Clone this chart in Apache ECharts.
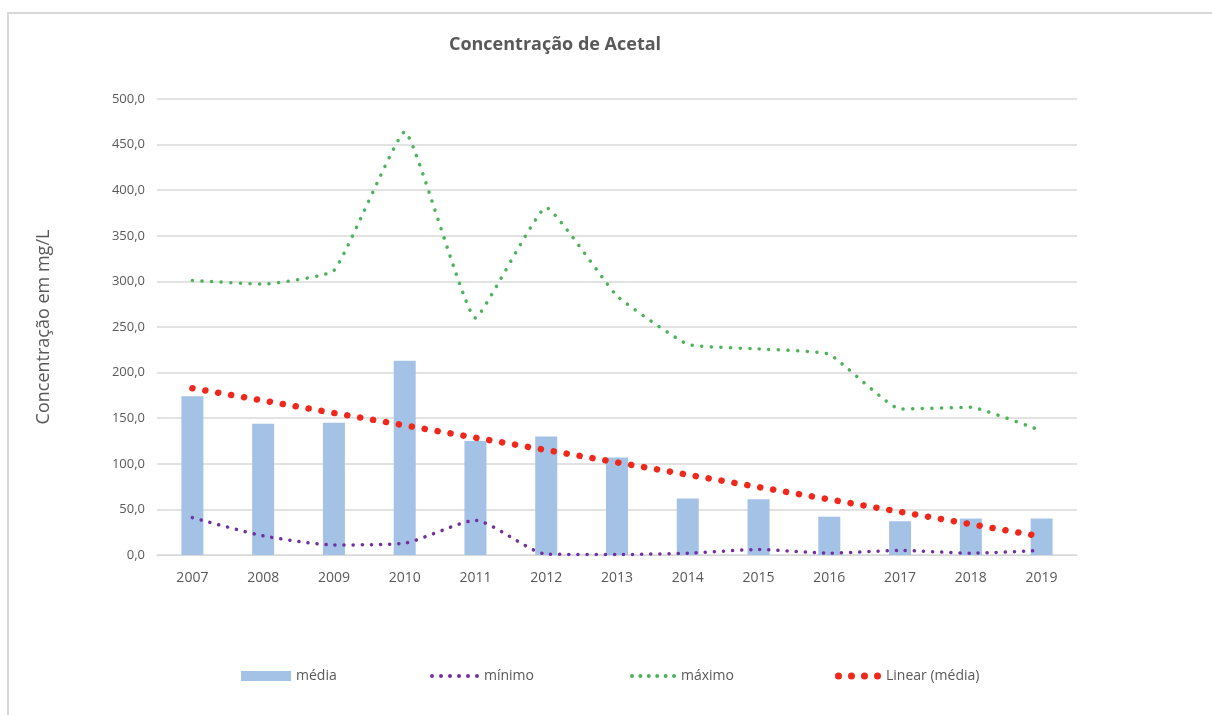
<!DOCTYPE html>
<html>
<head>
<meta charset="utf-8">
<script src="https://cdn.jsdelivr.net/npm/echarts@6/dist/echarts.min.js"></script>
<style>
  html, body { margin: 0; padding: 0; background: #fff; }
  #chart { width: 1212px; height: 715px; }
</style>
</head>
<body>
<div id="chart"></div>
<script>
// Acetal concentration per year (mg/L)
const years = ['2007','2008','2009','2010','2011','2012','2013','2014','2015','2016','2017','2018','2019'];
const media  = [174, 144, 145, 213, 125, 130, 107, 62, 61, 42, 37, 40, 40];
const minimo = [41, 21, 11, 13, 38, 1, 0.5, 2, 6, 2, 5, 2, 5];
const maximo = [301, 297, 312, 464, 260, 381, 284, 231, 226, 220, 160, 162, 136];

// Least-squares trend of the yearly means, as a spreadsheet "Linear" trendline
function linearTrend(values) {
  const n = values.length;
  const xm = (n - 1) / 2;
  const ym = values.reduce((a, b) => a + b, 0) / n;
  let sxy = 0, sxx = 0;
  values.forEach((v, i) => { sxy += (i - xm) * (v - ym); sxx += (i - xm) * (i - xm); });
  const slope = sxy / sxx;
  return values.map((_, i) => +(ym + slope * (i - xm)).toFixed(2));
}
const tendencia = linearTrend(media);

// Row of round dots used as a legend icon
function dotsIcon(count, d, step) {
  const r = d / 2;
  let p = 'path://';
  for (let i = 0; i < count; i++) {
    const cx = r + i * step;
    p += `M${cx - r},${r}a${r},${r} 0 1,0 ${d},0a${r},${r} 0 1,0 ${-d},0Z`;
  }
  return p;
}

const FONT = '"Open Sans", "Liberation Sans", sans-serif';
const TXT = '#595959';

const chart = echarts.init(document.getElementById('chart'), null, { renderer: 'canvas' });

const legendBase = {
  top: 664,
  itemGap: 6,
  textStyle: { fontFamily: FONT, fontSize: 14, color: TXT }
};

chart.setOption({
  animation: false,
  backgroundColor: '#ffffff',
  graphic: [{
    type: 'rect',
    shape: { x: 8, y: 13, width: 1400, height: 900 },
    style: { fill: 'none', stroke: '#d9d9d9', lineWidth: 2 },
    silent: true
  }],
  title: {
    text: 'Concentração de Acetal',
    left: 550,
    textAlign: 'center',
    top: 31,
    textStyle: { fontFamily: FONT, fontSize: 18, fontWeight: 'bold', color: TXT }
  },
  legend: [
    Object.assign({}, legendBase, { left: 236, data: ['média'], icon: 'rect', itemWidth: 50, itemHeight: 10, itemGap: 5 }),
    Object.assign({}, legendBase, { left: 425, data: [{ name: 'mínimo', icon: dotsIcon(6, 4, 9) }], itemWidth: 49, itemHeight: 4, itemGap: 6 }),
    Object.assign({}, legendBase, { left: 625, data: [{ name: 'máximo', icon: dotsIcon(6, 4, 8.4) }], itemWidth: 46, itemHeight: 4, itemGap: 7 }),
    Object.assign({}, legendBase, { left: 830, data: [{ name: 'Linear (média)', icon: dotsIcon(4, 7, 13) }], itemWidth: 46, itemHeight: 7, itemGap: 11 })
  ],
  grid: { left: 157, right: 135, top: 99, bottom: 160, containLabel: false },
  xAxis: {
    type: 'category',
    data: years,
    boundaryGap: true,
    axisLine: { lineStyle: { color: '#d9d9d9', width: 1 } },
    axisTick: { show: false },
    axisLabel: { fontFamily: FONT, fontSize: 14, color: TXT, margin: 16 }
  },
  yAxis: {
    type: 'value',
    min: 0,
    max: 500,
    interval: 50,
    name: 'Concentração em mg/L',
    nameLocation: 'middle',
    nameGap: 104,
    nameRotate: 90,
    nameTextStyle: { fontFamily: FONT, fontSize: 18, color: TXT },
    axisLine: { show: false },
    axisTick: { show: false },
    splitLine: { lineStyle: { color: '#d9d9d9', width: 1.5 } },
    axisLabel: {
      fontFamily: FONT, fontSize: 13, color: TXT, margin: 12,
      formatter: v => v.toFixed(1).replace('.', ',')
    }
  },
  series: [
    {
      name: 'média',
      type: 'bar',
      data: media,
      barWidth: 22,
      itemStyle: { color: '#a4c2e5' },
      z: 1
    },
    {
      name: 'mínimo',
      type: 'line',
      data: minimo,
      smooth: 0.2,
      symbol: 'none',
      lineStyle: { color: '#7030a0', width: 3.5, type: [0.1, 9], cap: 'round' },
      itemStyle: { color: '#7030a0' },
      z: 3
    },
    {
      name: 'máximo',
      type: 'line',
      data: maximo,
      smooth: 0.12,
      symbol: 'none',
      lineStyle: { color: '#4cb35a', width: 3.5, type: [0.1, 9.5], cap: 'round' },
      itemStyle: { color: '#4cb35a' },
      z: 3
    },
    {
      name: 'Linear (média)',
      type: 'line',
      data: tendencia,
      symbol: 'none',
      lineStyle: { color: '#f0271b', width: 6.5, type: [0.1, 13], cap: 'round' },
      itemStyle: { color: '#f0271b' },
      z: 4
    }
  ]
});
</script>
</body>
</html>
